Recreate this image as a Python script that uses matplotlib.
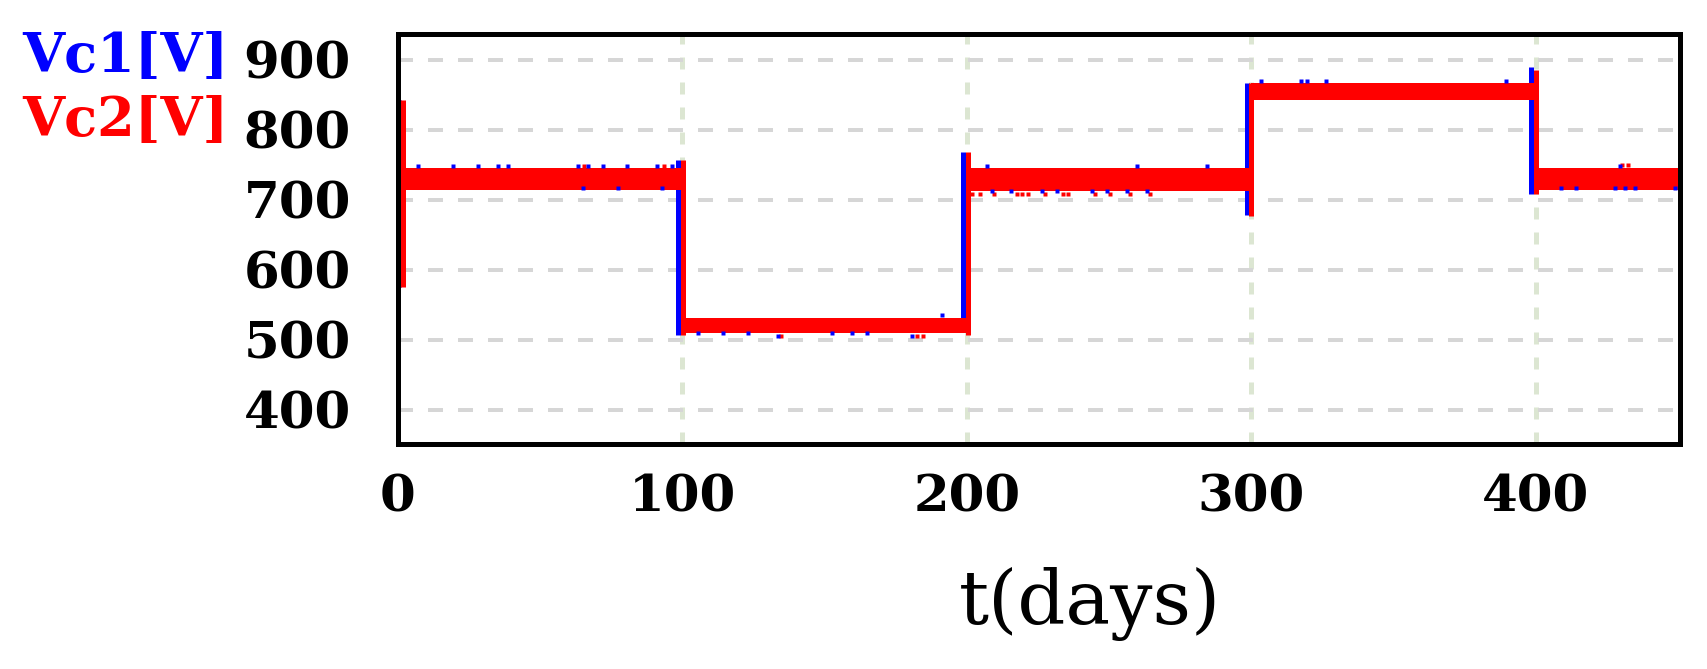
import matplotlib
matplotlib.use("Agg")
import matplotlib.pyplot as plt

# ---------------- data ----------------
x_ticks = [0, 100, 200, 300, 400]
y_ticks = [400, 500, 600, 700, 800, 900]
t_end = 451

# Vc1 (blue): switching instants, transient spike ranges, steady levels
vc1_switch_t = [0.2, 98.5, 198.5, 298.5, 398.4]
vc1_switch_lo = [576, 507, 520, 679, 709]
vc1_switch_hi = [843, 757, 769, 867, 890]
vc1_level = [730, 520, 730, 855, 730]
# Vc1 ripple peaks visible outside the Vc2 band
vc1_ripple_t = [7.1, 19.5, 28.2, 35.2, 38.7, 63.2, 66.7, 72.0, 80.7, 91.2, 96.5,
                65.0, 77.2, 93.0,
                105.5, 114.2, 123.0, 133.5, 152.7, 159.7, 165.0, 180.7, 191.2,
                207.0, 259.8, 284.3,
                208.7, 215.7, 226.6, 231.8, 244.1, 249.3, 256.3, 263.3,
                303.6, 317.5, 319.5, 326.3, 389.6,
                408.8, 414.1, 428.1, 431.6, 435.1, 449.1, 429.8]
vc1_ripple_v = [748, 748, 748, 748, 748, 748, 748, 748, 748, 748, 748,
                717, 717, 717,
                510, 510, 510, 505, 510, 510, 510, 505, 535,
                749, 749, 749,
                712, 712, 712, 712, 712, 712, 712, 712,
                870, 870, 870, 870, 870,
                717, 717, 717, 717, 717, 717, 748]

# Vc2 (red): switching instants, transient ranges, ripple band per interval
vc2_switch_t = [1.9, 100.3, 200.3, 300.1, 400.1]
vc2_switch_lo = [576, 507, 507, 677, 709]
vc2_switch_hi = [843, 757, 769, 867, 885]
vc2_band_lo = [714, 509, 713, 843, 714]
vc2_band_hi = [745, 531, 746, 867, 746]
# Vc2 ripple excursions outside its band
vc2_ripple_t = [65.5, 93.5, 134.8, 182.5, 184.5, 202.0, 204.5, 209.5, 217.5, 219.5,
                221.5, 227.6, 233.8, 235.5, 245.0, 250.5, 257.5, 264.5, 430.5, 432.5]
vc2_ripple_v = [748, 748, 505, 505, 505, 709, 709, 709, 709, 709,
                709, 709, 709, 709, 709, 709, 709, 709, 750, 750]

# ---------------- style ----------------
plt.rcParams["lines.scale_dashes"] = False
BLUE = "#0000ff"
RED = "#ff0000"
W, H = 1708, 669
DPI = 100
px = 72.0 / DPI  # points per pixel

fig = plt.figure(figsize=(W / DPI, H / DPI), dpi=DPI)
left, right, top, bottom = 398, 1680, 34, 444
ax = fig.add_axes([left / W, 1 - bottom / H, (right - left) / W, (bottom - top) / H])

ax.set_xlim(2.1, 450.8)
ax.set_ylim(351, 937)
ax.set_xticks(x_ticks)
ax.set_yticks(y_ticks)

ax.grid(axis="y", color="#d6d6d6", lw=4 * px, ls=(0, (15 * px, 15 * px)), zorder=0)
ax.grid(axis="x", color="#dce6d2", lw=5 * px, ls=(0, (12 * px, 13 * px)), zorder=0)
ax.set_axisbelow(True)

# Vc1 steady segments (mostly hidden below Vc2)
seg_ends1 = vc1_switch_t[1:] + [t_end]
ax.hlines(vc1_level, vc1_switch_t, seg_ends1, colors=BLUE, lw=5 * px, zorder=2)
ax.vlines(vc1_switch_t, vc1_switch_lo, vc1_switch_hi, colors=BLUE, lw=5 * px,
          zorder=3, clip_on=False)

# Vc2 band and transitions
seg_ends2 = vc2_switch_t[1:] + [t_end]
for s, e, lo, hi in zip(vc2_switch_t, seg_ends2, vc2_band_lo, vc2_band_hi):
    ax.fill_between([s, e], lo, hi, color=RED, lw=0, zorder=4)
ax.vlines(vc2_switch_t, vc2_switch_lo, vc2_switch_hi, colors=RED, lw=5 * px,
          zorder=4, clip_on=False)
ax.plot(vc2_ripple_t, vc2_ripple_v, ls="none", marker="s", ms=5 * px,
        mfc=RED, mec="none", zorder=4)
ax.plot(vc1_ripple_t, vc1_ripple_v, ls="none", marker="s", ms=5 * px,
        mfc=BLUE, mec="none", zorder=5)

for sp in ax.spines.values():
    sp.set_linewidth(5 * px)
    sp.set_color("black")
    sp.set_zorder(6)

ax.tick_params(axis="both", length=0)
ax.tick_params(axis="y", pad=47 * px)
ax.tick_params(axis="x", pad=30 * px)
for lab in ax.get_xticklabels() + ax.get_yticklabels():
    lab.set_fontfamily("DejaVu Serif")
    lab.set_fontweight("bold")
    lab.set_fontsize(37)

ax.set_xlabel("t(days)", family="DejaVu Serif", fontsize=54)
ax.xaxis.set_label_coords((1090 - left) / (right - left), -(567 - bottom) / (bottom - top))

leg_font = dict(family="DejaVu Serif", weight="bold", size=39)
fig.text(125 / W, 1 - 57 / H, "Vc1[V]", color=BLUE, ha="center", va="center", **leg_font)
fig.text(125 / W, 1 - 121 / H, "Vc2[V]", color=RED, ha="center", va="center", **leg_font)

fig.savefig("out.png", dpi=DPI)
